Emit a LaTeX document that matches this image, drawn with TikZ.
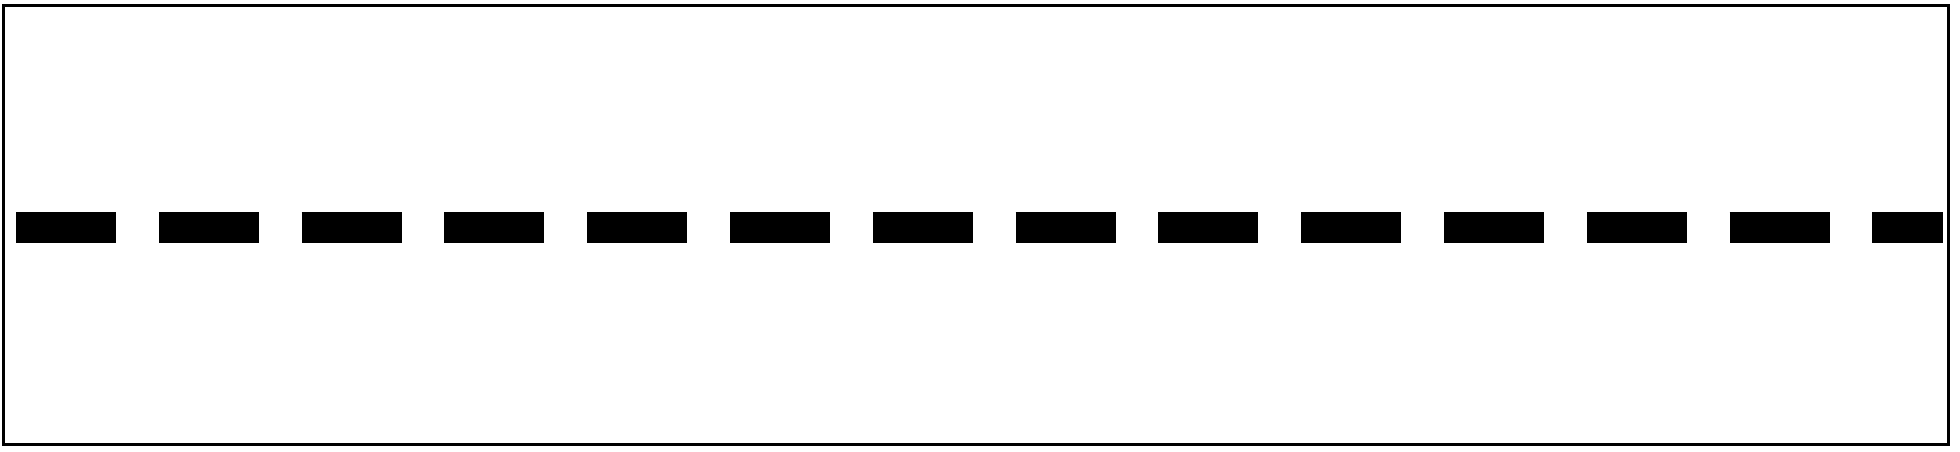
\documentclass[tikz,border=0pt]{standalone}
\begin{document}
\begin{tikzpicture}[x=1bp,y=-1bp,
  frame/.style={draw=black,line width=3.5bp},
  thickdash/.style={draw=black,line width=31bp,line cap=butt,dash pattern=on 100bp off 42.8bp}]
\useasboundingbox (0,0) rectangle (1960,452);
\draw[frame] (3.5,5.5) rectangle (1948.5,444.5);
\coordinate (l) at (16,227.5);
\coordinate (r) at (1943,227.5);
\draw[thickdash] (l) -- (r);
\end{tikzpicture}
\end{document}
